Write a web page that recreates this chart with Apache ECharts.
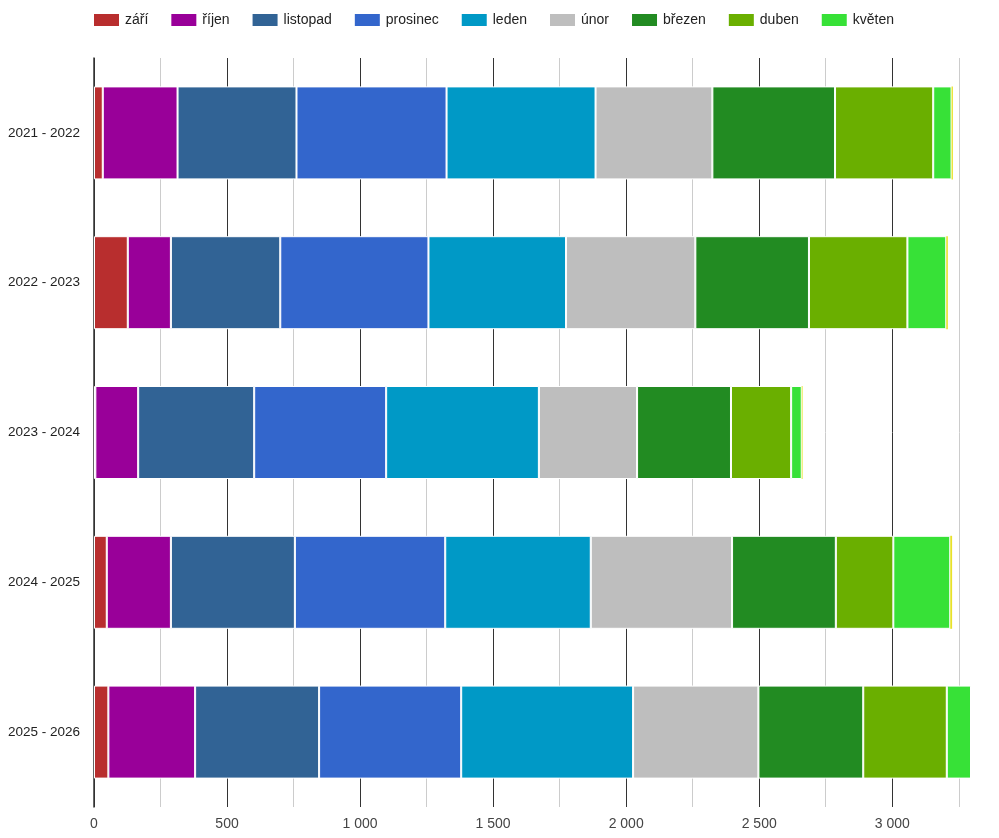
<!DOCTYPE html>
<html>
<head>
<meta charset="utf-8">
<script src="https://cdn.jsdelivr.net/npm/echarts@6/dist/echarts.min.js"></script>
<style>
html, body { margin: 0; padding: 0; background: #fff; }
#main { width: 999px; height: 838px; }
</style>
</head>
<body>
<div id="main"></div>
<script>
// školní roky (kategorie)
var years = ['2021 - 2022', '2022 - 2023', '2023 - 2024', '2024 - 2025', '2025 - 2026'];

// hodnoty po měsících
var zari     = [33, 127, 5, 48, 54];
var rijen    = [281, 162, 161, 241, 326];
var listopad = [447, 411, 436, 466, 466];
var prosinec = [564, 557, 496, 565, 534];
var leden    = [560, 517, 574, 547, 646];
var unor     = [439, 486, 369, 531, 471];
var brezen   = [461, 427, 353, 390, 394];
var duben    = [369, 370, 226, 216, 314];
var kveten   = [69, 146, 40, 214, 91];
var cerven   = [5, 6, 3, 7, 0];

var months = ['září', 'říjen', 'listopad', 'prosinec', 'leden', 'únor', 'březen', 'duben', 'květen', 'červen'];
var values = [zari, rijen, listopad, prosinec, leden, unor, brezen, duben, kveten, cerven];
var colors = ['#b82e2e', '#990099', '#316395', '#3366cc', '#0099c6', '#bebebe', '#228b22', '#6aaf00', '#37e137', '#e8e22a'];

var font = 'Arial, "Liberation Sans", sans-serif';

function fmt(v) {
    if (v % 500 !== 0) return '';
    return String(v).replace(/\B(?=(\d{3})+(?!\d))/g, ' ');
}

var series = [];
for (var i = 0; i < months.length; i++) {
    series.push({
        name: months[i],
        type: 'bar',
        stack: 'celkem',
        barWidth: 93,
        data: values[i],
        itemStyle: { color: colors[i], borderColor: '#fff', borderWidth: i == 9 ? 0 : 1 },
        emphasis: { disabled: true }
    });
}

var myChart = echarts.init(document.getElementById('main'));
var option = {
    animation: false,
    textStyle: { fontFamily: font },
    legend: {
        data: months.slice(0, 9),
        left: 92,
        top: 12,
        padding: 0,
        itemWidth: 27,
        itemHeight: 14,
        itemGap: 21,
        icon: 'rect',
        textStyle: { fontSize: 14, color: '#222', fontFamily: font }
    },
    grid: { left: 94, right: 28, top: 58, bottom: 31, containLabel: false },
    xAxis: {
        type: 'value',
        min: 0,
        max: 'dataMax',
        interval: 250,
        axisLine: { show: false },
        axisTick: { show: false },
        axisLabel: { formatter: fmt, fontSize: 14, color: '#444', margin: 10, showMaxLabel: false, fontFamily: font },
        splitLine: {
            show: true,
            showMaxLine: false,
            lineStyle: { color: ['#333', '#cccccc'], width: 1 }
        }
    },
    yAxis: {
        type: 'category',
        inverse: true,
        data: years,
        axisLine: { show: true, lineStyle: { color: '#333', width: 1.5 } },
        axisTick: { show: false },
        axisLabel: { fontSize: 13.5, color: '#222', margin: 14, fontFamily: font }
    },
    series: series
};
myChart.setOption(option);
</script>
</body>
</html>
